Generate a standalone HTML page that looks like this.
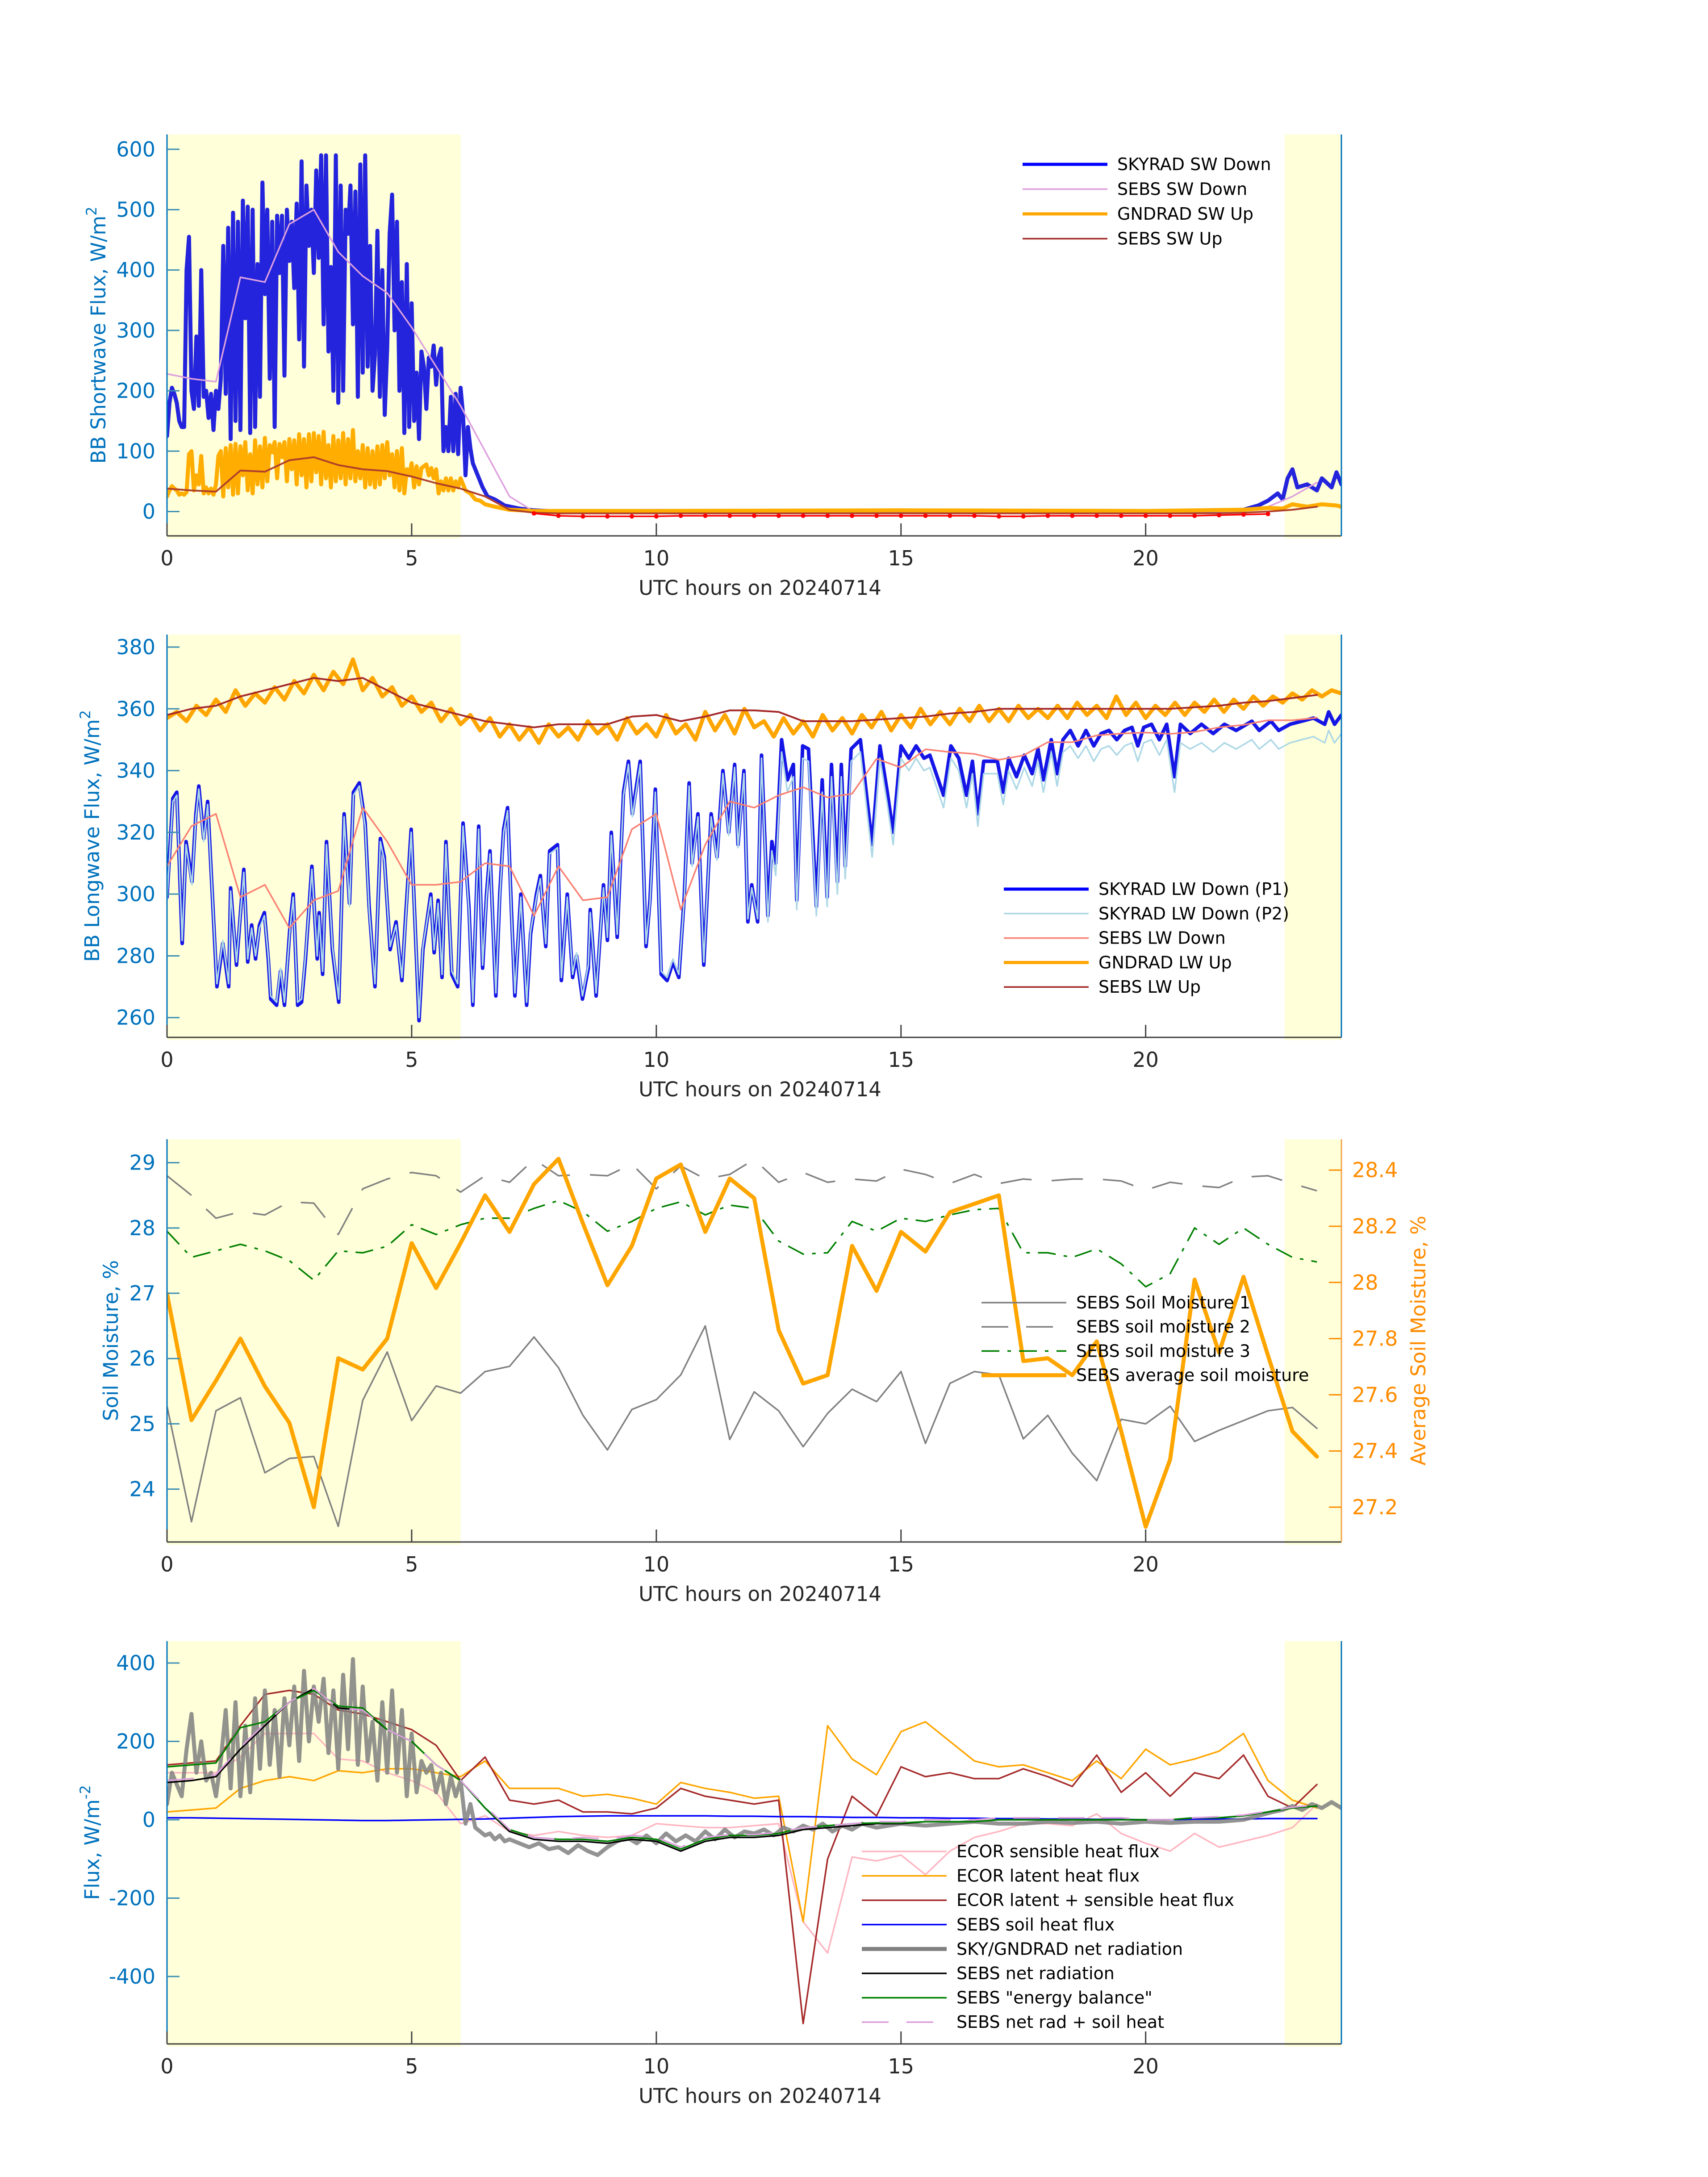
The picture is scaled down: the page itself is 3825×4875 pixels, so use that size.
<!DOCTYPE html>
<html><head><meta charset="utf-8"><title>Surface radiation and flux 20240714</title>
<style>
html,body{margin:0;padding:0;background:#fff;}
svg{display:block;font-family:"DejaVu Sans","Liberation Sans",sans-serif;}
</style></head>
<body>
<svg id="fig" xmlns="http://www.w3.org/2000/svg" width="3825" height="4875" viewBox="0 0 3825 4875">
<rect width="3825" height="4875" fill="#fff"/>
</svg>
<script>
// ---------- shared ----------
const xTicks = [0,5,10,15,20];
const shadeSpans = [[0,6],[22.84,24]];
const halfHours = [0,0.5,1,1.5,2,2.5,3,3.5,4,4.5,5,5.5,6,6.5,7,7.5,8,8.5,9,9.5,10,10.5,11,11.5,12,12.5,13,13.5,14,14.5,15,15.5,16,16.5,17,17.5,18,18.5,19,19.5,20,20.5,21,21.5,22,22.5,23,23.5];

// ---------- panel 1: shortwave ----------
const p1Ticks = [0,100,200,300,400,500,600];
const swDownMainStep = 0.05;
const swDownMain = [125,180,205,195,180,150,140,140,400,455,200,170,290,175,400,190,200,155,195,135,
200,170,220,440,195,470,120,495,150,480,135,515,320,505,130,500,140,410,190,545,
360,500,220,480,140,490,395,490,225,500,415,480,370,510,285,580,240,540,440,500,
395,565,420,590,310,590,265,405,200,590,180,540,200,500,460,540,310,530,190,575,
230,590,240,440,200,260,465,190,400,160,270,460,525,300,480,200,380,130,410,140,
345,150,230,120,265,240,170,255,240,275,210,255,270,100,140,100,190,100,195,95,205];
const swDownTailT = [6.05,6.1,6.15,6.2,6.25,6.35,6.45,6.55,6.7,6.9,7.2,7.5,8,10,12,14,16,18,20,21.5,22.0,22.3,22.5,22.7,22.8,22.9,23.0,23.1,23.3,23.5,23.6,23.8,23.9,24];
const swDownTailV = [160,60,140,105,80,60,40,25,20,10,5,2,0,1,0,1,0,1,0,1,3,10,18,30,20,55,70,40,45,35,55,40,65,45];
const swUpMainStep = 0.05;
const swUpMain = [25,35,42,38,35,28,30,28,32,95,100,35,60,45,92,30,40,30,38,28,
45,92,100,25,105,40,110,28,112,30,108,60,115,35,95,30,118,45,108,40,
122,50,110,98,115,55,112,90,115,50,120,70,118,45,128,60,120,40,128,50,
130,65,125,45,132,55,110,40,125,50,118,55,130,45,120,55,135,50,100,55,
110,40,105,45,100,40,108,45,110,55,115,60,95,40,100,35,105,30,70,60,
80,40,75,45,72,75,78,60,72,55,70,30,50,35,55,35,55,35,50,40,55];
const swUpTailT = [6.1,6.2,6.3,6.4,6.5,6.7,7.0,7.5,10,15,20,22,22.5,22.8,23,23.3,23.6,23.9,24];
const swUpTailV = [35,30,20,18,12,8,3,1,1,2,1,3,6,5,12,8,12,10,8];
const sebsSwDown = [228,220,215,388,380,476,500,430,390,362,305,240,175,100,25,0,0,0,0,0,0,0,0,0,0,0,0,0,0,0,0,0,0,0,0,0,0,0,0,0,0,0,0,0,0,8,25,48];
const sebsSwUp = [38,35,33,68,66,85,90,77,70,67,58,47,38,25,3,-2,-3,-3,-3,-3,-3,-3,-3,-3,-3,-3,-3,-3,-3,-3,-3,-3,-3,-3,-3,-3,-3,-3,-3,-3,-3,-3,-3,-3,-2,0,3,8];
const redDotT = [7.5,8,8.5,9,9.5,10,10.5,11,11.5,12,12.5,13,13.5,14,14.5,15,15.5,16,16.5,17,17.5,18,18.5,19,19.5,20,20.5,21,21.5,22,22.5];
const redDotV = [-3,-7,-8,-8,-8,-8,-7,-7,-7,-7,-7,-7,-7,-7,-7,-7,-7,-7,-7,-8,-8,-7,-7,-7,-7,-7,-7,-7,-6,-5,-4];

// ---------- panel 2: longwave ----------
const p2Ticks = [260,280,300,320,340,360,380];
const lwT = [0,.12,.20,.31,.39,.51,.59,.65,.75,.83,1.02,1.14,1.26,1.30,1.42,1.57,1.65,1.73,1.81,1.89,
1.99,2.07,2.12,2.24,2.32,2.40,2.52,2.58,2.67,2.75,2.83,2.96,3.07,3.11,3.18,3.26,3.38,3.51,3.62,3.73,
3.81,3.93,4.05,4.13,4.25,4.36,4.44,4.56,4.68,4.80,4.87,4.99,5.15,5.23,5.39,5.46,5.54,5.62,5.70,5.82,
5.94,6.05,6.17,6.25,6.37,6.45,6.53,6.60,6.72,6.80,6.88,6.96,7.04,7.11,7.23,7.35,7.43,7.55,7.63,7.74,
7.82,7.98,8.06,8.18,8.29,8.37,8.49,8.61,8.65,8.77,8.92,9.00,9.08,9.20,9.33,9.43,9.51,9.67,9.79,9.87,
9.98,10.10,10.22,10.34,10.46,10.57,10.67,10.73,10.85,10.97,11.12,11.24,11.36,11.48,11.60,11.67,11.79,11.87,11.95,12.07,
12.15,12.28,12.36,12.44,12.56,12.68,12.80,12.87,12.99,13.11,13.27,13.39,13.49,13.58,13.70,13.78,13.86,13.98,14.17,14.29,14.41,
14.57,14.72,14.84,15.0,15.16,15.31,15.47,15.59,15.87,16.02,16.18,16.34,16.46,16.57,16.69,16.81,16.97,17.09,17.20,17.36,
17.52,17.68,17.80,17.91,18.07,18.19,18.31,18.46,18.62,18.78,18.94,19.09,19.25,19.41,19.57,19.72,19.84,19.96,20.12,20.28,
20.43,20.59,20.71,20.91,21.14,21.38,21.61,21.85,22.17,22.32,22.56,22.72,22.95,23.19,23.43,23.66,23.74,23.86,24.0];
const lwDownP1 = [299,331,333,284,317,304,326,335,318,330,270,284,270,302,277,308,278,290,279,290,
294,279,266,264,275,264,291,300,264,265,279,309,279,294,274,317,282,265,326,297,
333,336,323,296,270,318,312,282,291,272,291,321,259,282,300,281,298,273,317,274,
270,323,296,264,322,276,300,314,267,300,321,328,294,267,300,264,287,300,306,283,
314,316,272,300,273,280,266,276,295,267,303,285,320,286,333,343,326,343,283,298,
334,274,272,278,273,299,336,310,326,277,326,312,340,320,342,316,340,291,303,291,
345,293,317,310,350,337,342,298,348,347,296,337,299,342,304,342,309,347,350,333,316,
348,333,320,348,344,348,344,345,332,348,344,332,343,326,343,343,343,333,344,338,
345,339,347,337,350,339,350,353,348,353,348,352,353,350,353,354,348,354,355,350,
355,338,355,352,355,352,355,353,356,353,356,353,355,356,357,355,359,355,358];
const lwDownP2 = [298,330,332,285,316,303,325,334,317,329,271,285,271,301,278,307,279,289,280,289,
293,280,267,265,276,265,290,299,265,266,280,308,280,293,275,316,283,266,325,296,
332,335,322,295,271,317,311,283,290,273,290,320,260,283,299,282,297,274,316,275,
271,322,295,265,321,277,299,313,268,299,320,327,293,268,299,265,288,299,305,284,
313,315,273,299,274,281,267,277,294,268,302,286,319,287,332,342,325,342,284,297,
333,275,273,279,274,298,335,309,325,278,325,311,339,319,341,315,339,292,302,292,
344,291,314,306,346,333,338,295,344,343,293,333,296,338,300,338,305,343,346,329,312,
344,329,316,344,340,344,340,341,328,344,340,328,339,322,339,339,339,329,340,334,
341,335,343,333,346,335,346,348,344,348,343,347,348,345,348,349,343,349,350,345,
350,333,349,347,349,346,349,347,350,347,350,347,349,350,351,349,353,349,352];
const lwUpStep = 0.2;
const lwUpGnd = [357,359,356,361,358,363,359,366,361,365,362,367,363,369,365,371,366,372,368,376,
366,370,364,367,361,364,359,362,356,360,355,358,353,357,351,355,350,354,349,355,
351,354,350,356,352,355,350,357,352,355,351,358,352,355,350,359,353,358,352,360,
354,356,351,357,352,356,351,358,353,357,352,358,354,359,353,358,354,360,355,359,
355,360,356,361,356,360,356,361,357,360,357,361,357,362,358,361,357,364,358,362,
357,361,358,362,358,362,359,363,359,363,360,364,361,364,362,365,363,366,364,366,365];
const sebsLwDown = [309,322,326,299,303,289,298,301,328,317,303,303,304,310,309,293,309,298,299,321,
326,295,316,330,328,332,334.6,331.3,332.5,343.8,341,346.9,346,345.4,343.5,344.9,349.2,349.2,351.4,352,
352.3,351.9,352.5,354,354.8,356.3,356.3,357.1];
const sebsLwUp = [358,360,361,364,366,368,370,369,370,366,362,360,358,356,355,354,355,355,355,357.5,
358,356,357.5,359.5,359.5,359,356,356,356,356.5,357,357.5,358.5,359,360,360,360,360,360,360,
360,360,360.5,361,362,362.5,363.5,364.5];

// ---------- panel 3: soil moisture ----------
const p3TicksLeft = [24,25,26,27,28,29];
const p3TicksRight = [27.2,27.4,27.6,27.8,28,28.2,28.4];
const soil1 = [25.27,23.5,25.2,25.4,24.25,24.47,24.5,23.43,25.36,26.1,25.05,25.58,25.47,25.8,25.88,26.33,25.86,25.13,24.6,25.22,
25.37,25.75,26.5,24.76,25.49,25.2,24.65,25.16,25.53,25.34,25.8,24.7,25.62,25.8,25.75,24.77,25.13,24.55,24.13,25.07,
25.0,25.27,24.73,24.9,25.05,25.2,25.25,24.93];
const soil2 = [28.8,28.5,28.15,28.25,28.2,28.4,28.38,27.9,28.6,28.75,28.85,28.8,28.55,28.8,28.7,29.05,28.8,28.82,28.8,28.98,
28.6,28.95,28.75,28.82,29.05,28.7,28.85,28.7,28.75,28.72,28.9,28.82,28.68,28.82,28.68,28.75,28.72,28.75,28.75,28.72,
28.58,28.7,28.65,28.62,28.78,28.8,28.68,28.57];
const soil3 = [27.95,27.55,27.65,27.75,27.65,27.5,27.2,27.65,27.62,27.72,28.05,27.9,28.05,28.15,28.15,28.3,28.42,28.25,27.95,28.1,
28.3,28.4,28.2,28.35,28.3,27.8,27.6,27.62,28.1,27.95,28.15,28.1,28.2,28.28,28.3,27.62,27.62,27.55,27.68,27.45,
27.1,27.3,28.0,27.75,28.0,27.75,27.55,27.48];
const soilAvg = [27.96,27.51,27.65,27.8,27.63,27.5,27.2,27.73,27.69,27.8,28.14,27.98,28.14,28.31,28.18,28.35,28.44,28.21,27.99,28.13,
28.37,28.42,28.18,28.37,28.3,27.83,27.64,27.67,28.13,27.97,28.18,28.11,28.25,28.28,28.31,27.72,27.73,27.67,27.79,27.47,
27.13,27.37,28.01,27.75,28.02,27.74,27.47,27.38];

// ---------- panel 4: fluxes ----------
const p4Ticks = [-400,-200,0,200,400];
const ecorSensible = [120,120,120,160,220,220,220,155,150,120,100,70,-10,10,-30,-40,-30,-40,-45,-40,
-10,-15,-20,-20,-15,-10,-260,-340,-95,-105,-90,-140,-80,-45,-30,-10,-10,-15,15,-35,
-60,-80,-35,-70,-55,-40,-20,40];
const ecorLatent = [20,25,30,80,100,110,100,125,120,130,130,120,110,150,80,80,80,60,65,55,
40,95,80,70,55,60,-260,240,155,115,225,250,200,150,135,140,120,100,150,105,
180,140,155,175,220,100,50,30];
const ecorSum = [140,145,150,240,320,330,320,280,270,250,230,190,100,160,50,40,50,20,20,15,
30,80,60,50,40,50,-520,-100,60,10,135,110,120,105,105,130,110,85,165,70,
120,60,120,105,165,60,30,90];
const sebsSoilHeat = [5,5,4,3,2,1,0,-1,-2,-2,-1,0,1,2,4,6,8,9,10,10,10,10,10,9,9,8,8,7,6,6,5,5,4,4,3,3,2,2,1,1,0,0,1,2,2,3,3,3];
const netRadMainStep = 0.1;
const netRadMain = [40,120,90,60,180,270,120,200,100,120,60,150,280,80,300,60,240,70,310,130,
330,140,280,110,310,190,340,150,380,200,340,250,360,170,330,130,370,180,410,140,
340,150,250,100,300,120,330,120,280,60,220,70,150,120,140,70,120,40,110,60,
100,-10,40,-20,-30,-40,-35,-50,-40,-55,-50];
const netRadTailT = [7.2,7.4,7.6,7.8,8.0,8.2,8.4,8.6,8.8,9.0,9.2,9.4,9.6,9.8,10.0,10.2,10.4,10.6,10.8,11.0,11.2,11.4,11.6,11.8,12.0,12.2,12.4,12.6,12.8,13.0,13.2,13.4,13.6,13.8,14.0,14.2,14.5,15,15.5,16,16.5,17,17.5,18,18.5,19,19.5,20,20.5,21,21.5,22,22.3,22.6,22.8,23,23.2,23.4,23.6,23.8,24];
const netRadTailV = [-60,-70,-60,-75,-70,-85,-65,-80,-90,-70,-55,-45,-60,-40,-60,-35,-55,-40,-55,-30,-50,-25,-45,-30,-35,-25,-40,-20,-30,-15,-25,-10,-30,-15,-25,-10,-20,-10,-15,-10,-5,-10,-10,-5,-8,-5,-10,-5,-8,-5,-5,0,10,20,25,35,25,40,30,45,30];
const sebsNetRad = [95,100,110,180,240,300,335,285,280,230,200,140,100,30,-30,-50,-55,-55,-60,-50,-55,-80,-55,-45,-45,-40,-25,-20,-15,-10,-10,-5,-5,-5,0,0,0,0,0,0,0,0,5,5,10,20,30,35];
const sebsEnergy = [135,140,145,235,250,300,330,290,285,230,200,140,100,30,-25,-45,-50,-50,-55,-45,-50,-75,-50,-40,-40,-35,-20,-15,-10,-8,-8,-5,-5,-5,0,0,0,0,0,0,0,0,5,5,10,20,30,35];
const sebsNetSoil = [100,105,115,185,245,300,335,285,280,230,200,140,100,35,-25,-45,-50,-45,-50,-40,-45,-70,-45,-38,-38,-32,-20,-15,-10,-5,-5,0,0,0,5,5,5,5,5,5,0,0,5,8,12,22,32,38];
</script>
<script>
const NS = "http://www.w3.org/2000/svg";
const svg = document.getElementById('fig');
const X0 = 374, X1 = 3004;
function xs(t){ return X0 + t*(X1-X0)/24; }
function mk(tag, attrs, parent){
  const e = document.createElementNS(NS, tag);
  for (const k in attrs) e.setAttribute(k, attrs[k]);
  (parent||svg).appendChild(e);
  return e;
}
function linY(top,bottom,vTop,vBot){ return v => top + (vTop - v)*(bottom-top)/(vTop-vBot); }
function stepTimes(n, step){ const a=[]; for(let i=0;i<n;i++) a.push(+(i*step).toFixed(4)); return a; }
function pathD(ts, vs, ys){
  let d=''; const n=Math.min(ts.length, vs.length);
  for(let i=0;i<n;i++){ d += (i?'L':'M') + xs(ts[i]).toFixed(1) + ',' + ys(vs[i]).toFixed(1); }
  return d;
}
function series(g, name, ts, vs, ys, stroke, width, extra){
  const p = mk('path', Object.assign({d:pathD(ts,vs,ys), fill:'none', stroke:stroke, 'stroke-width':width, 'stroke-linejoin':'round','stroke-linecap':'round'}, extra||{}), g);
  
  
  return p;
}
function panel(id, top, bottom, rightColor){
  const g = mk('g', {}, svg);
  
  
  const cp = mk('clipPath', {id:'clip-'+id}, g);
  mk('rect', {x:X0, y:top, width:X1-X0, height:bottom-top}, cp);
  shadeSpans.forEach((s,i)=>{
    const r = mk('rect', {x:xs(s[0]), y:top, width:xs(s[1])-xs(s[0]), height:bottom-top+6, fill:'#ffffd9'}, g);
    
    
  });
  const plot = mk('g', {'clip-path':'url(#clip-'+id+')'}, g);
  
  
  const ax = mk('line', {x1:X0, y1:bottom, x2:X1, y2:bottom, stroke:'#404040', 'stroke-width':3}, g);
  
  
  const ly = mk('line', {x1:X0, y1:top, x2:X0, y2:bottom, stroke:'#0072bd', 'stroke-width':3}, g);
  
  
  const ry = mk('line', {x1:X1, y1:top, x2:X1, y2:bottom, stroke:rightColor, 'stroke-width':3}, g);
  
  
  xTicks.forEach(t=>{
    const tk = mk('line', {x1:xs(t), y1:bottom, x2:xs(t), y2:bottom-28, stroke:'#404040', 'stroke-width':3}, g);
    
    
    const tl = mk('text', {x:xs(t), y:bottom+66, 'font-size':46, fill:'#262626', 'text-anchor':'middle'}, g);
    tl.textContent = String(t);
    
    
  });
  const xl = mk('text', {x:1702, y:bottom+132, 'font-size':45, fill:'#262626', 'text-anchor':'middle'}, g);
  xl.textContent = 'UTC hours on 20240714';
  
  
  return {g, plot, top, bottom};
}
function yTicks(P, ticks, ys, side, color, fmt){
  ticks.forEach(v=>{
    const y = ys(v);
    const x = side==='left' ? X0 : X1;
    const tk = mk('line', {x1:x, y1:y, x2: side==='left'? x+28 : x-28, y2:y, stroke: side==='left' ? '#3a8db5' : color, 'stroke-width':3}, P.g);
    
    
    const tl = mk('text', {x: side==='left'? X0-26 : X1+24, y:y+16, 'font-size':46, fill:color, 'text-anchor': side==='left'?'end':'start'}, P.g);
    tl.textContent = fmt ? fmt(v) : String(v);
    
    
  });
}
function yTitle(P, x, html, color, name){
  const cy = (P.top+P.bottom)/2;
  const t = mk('text', {x:x, y:cy, 'font-size':45, fill:color, 'text-anchor':'middle', transform:'rotate(-90 '+x+' '+cy+')'}, P.g);
  t.innerHTML = html;
  
  
}
function legend(P, x, ys0, dy, entries){
  const lg = mk('g', {}, P.g);
  
  
  entries.forEach((e,i)=>{
    const y = ys0 + i*dy;
    const eg = mk('g', {}, lg);
    
    
    mk('line', Object.assign({x1:x, y1:y, x2:x+190, y2:y, stroke:e.c, 'stroke-width':e.w}, e.dash?{'stroke-dasharray':e.dash}:{}), eg);
    const t = mk('text', {x:x+212, y:y+13, 'font-size':38, fill:'#000'}, eg);
    t.textContent = e.label;
  });
}

// ===== Panel 1 =====
(function(){
  const P = panel('shortwave-panel', 301, 1200, '#0072bd');
  const ys = linY(301, 1200, 624.6, -40.3);
  const swT = stepTimes(swDownMain.length, swDownMainStep).concat(swDownTailT);
  const swV = swDownMain.concat(swDownTailV);
  const upT = stepTimes(swUpMain.length, swUpMainStep).concat(swUpTailT);
  const upV = swUpMain.concat(swUpTailV);
  series(P.plot, 'skyrad-sw-down-line', swT, swV, ys, '#2424dc', 9);
  series(P.plot, 'sebs-sw-down-line', halfHours, sebsSwDown, ys, '#dda0dd', 3.5);
  series(P.plot, 'gndrad-sw-up-line', upT, upV, ys, '#ffad00', 9);
  series(P.plot, 'sebs-sw-up-line', halfHours, sebsSwUp, ys, '#b0402a', 4);
  series(P.plot, 'sebs-sw-net-line', redDotT, redDotV, ys, '#ff0000', 3.5);
  redDotT.forEach((t,i)=>{
    const c = mk('circle', {cx:xs(t), cy:ys(redDotV[i]), r:5, fill:'#ff0000'}, P.plot);
    
    
  });
  yTicks(P, p1Ticks, ys, 'left', '#0072bd');
  yTitle(P, 236, 'BB Shortwave Flux, W/m<tspan font-size="32" dy="-20">2</tspan>', '#0072bd', 'y-axis-title');
  legend(P, 2290, 368, 55.5, [
    {label:'SKYRAD SW Down', c:'#0000ff', w:7},
    {label:'SEBS SW Down', c:'#dda0dd', w:3.5},
    {label:'GNDRAD SW Up', c:'#ffa500', w:7},
    {label:'SEBS SW Up', c:'#a52a2a', w:3.5}
  ]);
})();

// ===== Panel 2 =====
(function(){
  const P = panel('longwave-panel', 1421, 2323, '#0072bd');
  const ys = linY(1421, 2323, 384.05, 253.6);
  const upT = stepTimes(lwUpGnd.length, lwUpStep);
  series(P.plot, 'skyrad-lw-down-p1-line', lwT, lwDownP1, ys, '#1515e6', 8);
  series(P.plot, 'skyrad-lw-down-p2-line', lwT, lwDownP2, ys, '#add8e6', 3.5);
  series(P.plot, 'sebs-lw-down-line', halfHours, sebsLwDown, ys, '#fa8072', 3.5);
  series(P.plot, 'gndrad-lw-up-line', upT, lwUpGnd, ys, '#ffa500', 9);
  series(P.plot, 'sebs-lw-up-line', halfHours, sebsLwUp, ys, '#a52a2a', 4);
  yTicks(P, p2Ticks, ys, 'left', '#0072bd');
  yTitle(P, 222, 'BB Longwave Flux, W/m<tspan font-size="32" dy="-20">2</tspan>', '#0072bd', 'y-axis-title');
  legend(P, 2248, 1991, 54.8, [
    {label:'SKYRAD LW Down (P1)', c:'#0000ff', w:7},
    {label:'SKYRAD LW Down (P2)', c:'#add8e6', w:3.5},
    {label:'SEBS LW Down', c:'#fa8072', w:3.5},
    {label:'GNDRAD LW Up', c:'#ffa500', w:7},
    {label:'SEBS LW Up', c:'#a52a2a', w:3.5}
  ]);
})();

// ===== Panel 3 =====
(function(){
  const P = panel('soil-moisture-panel', 2551, 3453, '#f5a54a');
  const ysL = linY(2551, 3453, 29.36, 23.19);
  const ysR = linY(2551, 3453, 28.51, 27.076);
  series(P.plot, 'soil-moisture-1-line', halfHours, soil1, ysL, '#808080', 3.5);
  series(P.plot, 'soil-moisture-2-line', halfHours, soil2, ysL, '#808080', 3.5, {'stroke-dasharray':'70 45','stroke-linecap':'butt'});
  series(P.plot, 'soil-moisture-3-line', halfHours, soil3, ysL, '#008000', 3.5, {'stroke-dasharray':'40 18 8 18','stroke-linecap':'butt'});
  series(P.plot, 'average-soil-moisture-line', halfHours, soilAvg, ysR, '#ffa500', 9);
  yTicks(P, p3TicksLeft, ysL, 'left', '#0072bd');
  yTicks(P, p3TicksRight, ysR, 'right', '#ff8c00', v=>String(v));
  yTitle(P, 264, 'Soil Moisture, %', '#0072bd', 'y-axis-title-left');
  yTitle(P, 3192, 'Average Soil Moisture, %', '#ff8c00', 'y-axis-title-right');
  legend(P, 2198, 2917, 54.2, [
    {label:'SEBS Soil Moisture 1', c:'#808080', w:3.5},
    {label:'SEBS soil moisture 2', c:'#808080', w:3.5, dash:'60 40'},
    {label:'SEBS soil moisture 3', c:'#008000', w:3.5, dash:'40 18 8 18'},
    {label:'SEBS average soil moisture', c:'#ffa500', w:9}
  ]);
})();

// ===== Panel 4 =====
(function(){
  const P = panel('flux-panel', 3675, 4577, '#0072bd');
  const ys = linY(3675, 4577, 455.8, -572);
  const nT = stepTimes(netRadMain.length, netRadMainStep).concat(netRadTailT);
  const nV = netRadMain.concat(netRadTailV);
  series(P.plot, 'ecor-sensible-line', halfHours, ecorSensible, ys, '#ffb6c1', 3.5);
  series(P.plot, 'ecor-latent-line', halfHours, ecorLatent, ys, '#ffa500', 3.5);
  series(P.plot, 'ecor-sum-line', halfHours, ecorSum, ys, '#a52a2a', 3.5);
  series(P.plot, 'sebs-soil-heat-line', halfHours, sebsSoilHeat, ys, '#0000ff', 3.5);
  series(P.plot, 'sky-gndrad-net-line', nT, nV, ys, '#808080', 9, {'stroke-opacity':0.85});
  series(P.plot, 'sebs-net-rad-line', halfHours, sebsNetRad, ys, '#000000', 3.5);
  series(P.plot, 'sebs-energy-balance-line', halfHours, sebsEnergy, ys, '#008000', 3.5);
  series(P.plot, 'sebs-net-soil-line', halfHours, sebsNetSoil, ys, '#dda0dd', 3.5, {'stroke-dasharray':'60 40','stroke-linecap':'butt'});
  yTicks(P, p4Ticks, ys, 'left', '#0072bd');
  yTitle(P, 222, 'Flux, W/m<tspan font-size="32" dy="-20">-2</tspan>', '#0072bd', 'y-axis-title');
  legend(P, 1930, 4146, 54.6, [
    {label:'ECOR sensible heat flux', c:'#ffb6c1', w:3.5},
    {label:'ECOR latent heat flux', c:'#ffa500', w:3.5},
    {label:'ECOR latent + sensible heat flux', c:'#a52a2a', w:3.5},
    {label:'SEBS soil heat flux', c:'#0000ff', w:3.5},
    {label:'SKY/GNDRAD net radiation', c:'#808080', w:9},
    {label:'SEBS net radiation', c:'#000000', w:3.5},
    {label:'SEBS "energy balance"', c:'#008000', w:3.5},
    {label:'SEBS net rad + soil heat', c:'#dda0dd', w:3.5, dash:'60 40'}
  ]);
})();
</script>
</body></html>
